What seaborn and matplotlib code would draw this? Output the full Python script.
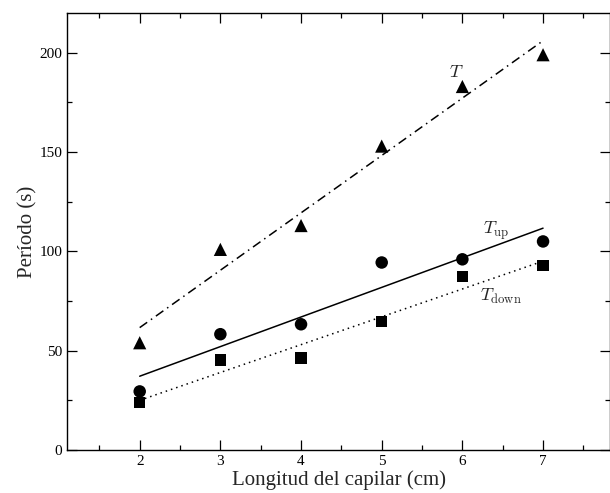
import numpy as np
import pandas as pd
import matplotlib
matplotlib.use("Agg")
import matplotlib.pyplot as plt
import seaborn as sns
from matplotlib.ticker import MultipleLocator

# Data
longitud = [2, 3, 4, 5, 6, 7]
periodo_T = [54, 101, 113, 153, 183, 199]
periodo_up = [29.5, 58.3, 63.3, 94.4, 96, 105]
periodo_down = [23.8, 45.3, 46.3, 64.5, 87.4, 93]
x_ticks = [2, 3, 4, 5, 6, 7]
y_ticks = [0, 50, 100, 150, 200]

sns.set_theme(style="ticks")
plt.rcParams["font.family"] = ["Liberation Serif", "DejaVu Serif"]
plt.rcParams["mathtext.fontset"] = "cm"

fig = plt.figure(figsize=(6.10, 4.93), dpi=100)
ax = fig.add_axes([0.110, 0.0872, 0.890, 0.8864])

series = [
    (periodo_T, "^", (0, (6, 3, 1, 3)), 9.5),
    (periodo_up, "o", "-", 9),
    (periodo_down, "s", (0, (1, 2.6)), 8),
]
for vals, mk, ls, ms in series:
    df = pd.DataFrame({"x": longitud, "y": vals})
    sns.regplot(data=df, x="x", y="y", ax=ax, ci=None, scatter=False, truncate=True,
                line_kws=dict(color="black", lw=1.1, linestyle=ls))
    sns.scatterplot(data=df, x="x", y="y", ax=ax, marker=mk, color="black",
                    s=ms ** 2, edgecolor="none", zorder=3)

ax.text(5.92, 190, r"$T$", fontsize=13, ha="center", va="center")
ax.text(6.42, 110.5, r"$T_{\rm up}$", fontsize=13, ha="center", va="center")
ax.text(6.48, 77.5, r"$T_{\rm down}$", fontsize=13, ha="center", va="center")

ax.set_xlim(1.1, 7.83)
ax.set_ylim(0, 220)
ax.set_xticks(x_ticks)
ax.set_yticks(y_ticks)
ax.xaxis.set_minor_locator(MultipleLocator(0.5))
ax.yaxis.set_minor_locator(MultipleLocator(25))
ax.tick_params(which="both", direction="in", top=True, right=True, labelsize=11,
               color="black", labelcolor="black", width=0.9)
ax.tick_params(which="major", length=7)
ax.tick_params(which="minor", length=3.6)
for sp in ax.spines.values():
    sp.set_visible(True)
    sp.set_color("black")
    sp.set_linewidth(1.0)

ax.set_xlabel("Longitud del capilar (cm)", fontsize=15, labelpad=2)
ax.set_ylabel("Período (s)", fontsize=15, labelpad=1)

fig.savefig("out.png", dpi=100)
